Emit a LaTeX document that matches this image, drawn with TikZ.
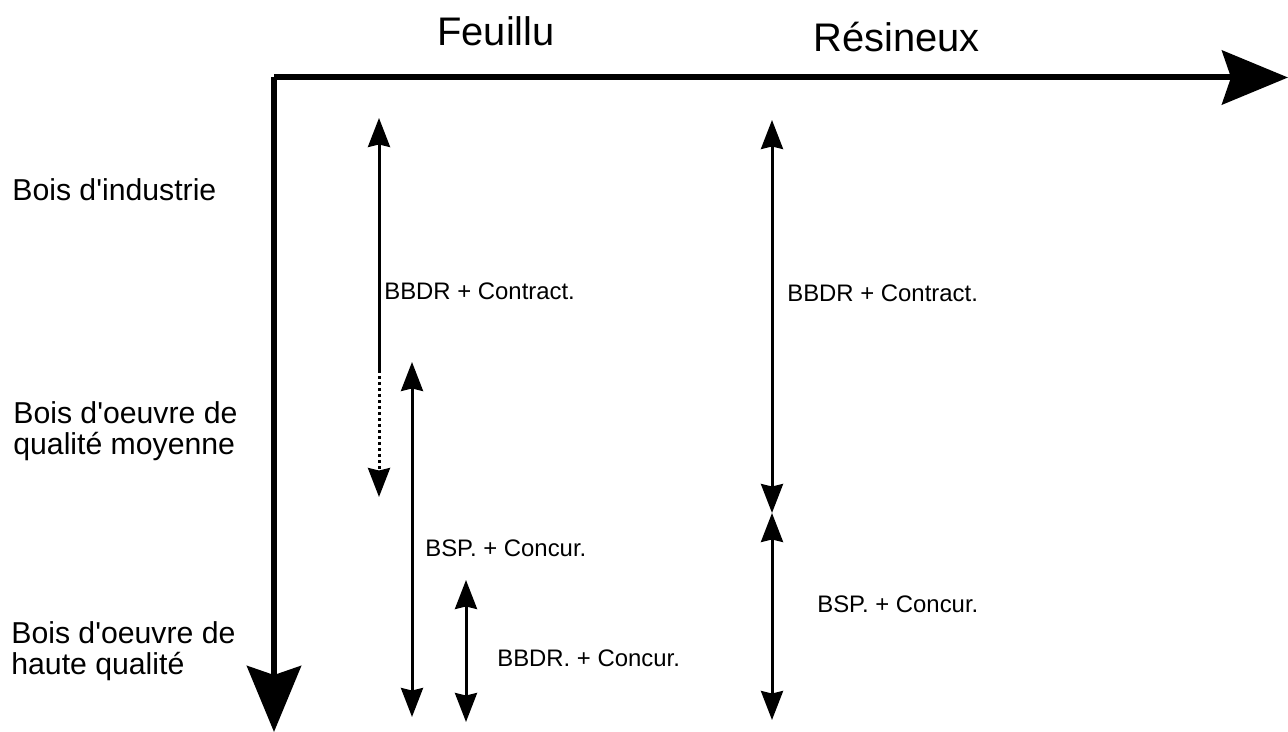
\documentclass[tikz,border=0pt]{standalone}
\usepackage{fontspec}
\setmainfont{Liberation Sans}[Ligatures=TeXOff]
\usetikzlibrary{arrows.meta}

\begin{document}
\begin{tikzpicture}[x=0.02cm, y=-0.02cm,
		axis/.style={line width=0.12cm, -{Stealth[length=1.32cm, width=1.08cm, inset=0.18cm]}},
		span/.style={line width=0.06cm, {Stealth[length=0.58cm, width=0.44cm, inset=0.05cm]}-{Stealth[length=0.58cm, width=0.44cm, inset=0.05cm]}},
		tip/.style={line width=0.06cm, -{Stealth[length=0.58cm, width=0.44cm, inset=0.05cm]}},
		title/.style={anchor=base west, inner sep=0pt, font=\fontsize{22.7}{27}\selectfont},
		cat/.style={anchor=base west, inner sep=0pt, align=left, font=\fontsize{17.2}{17.8}\selectfont},
		letter/.style={anchor=base west, inner sep=0pt, font=\fontsize{13.6}{16}\selectfont}]
	\useasboundingbox (0,0) rectangle (1288,732);

	% axes
	\coordinate (o) at (274,77.5);
	\coordinate (xend) at (1288,77.5);
	\coordinate (yend) at (274,732);
	\draw[axis] (o) -- (xend);
	\draw[axis] (o) -- (yend);

	% column and row labels
	\node[title] (feuillu) at (437,46) {Feuillu};
	\node[title] (resineux) at (813,52) {Résineux};
	\node[cat] (industrie) at (12,201) {Bois d'industrie};
	\node[cat] (moyenne) at (13,455) {Bois d'oeuvre de\\qualité moyenne};
	\node[cat] (haute) at (11,675) {Bois d'oeuvre de\\haute qualité};

	% Feuillu
	\coordinate (f1t) at (379,118);
	\coordinate (f1m) at (379,370);
	\coordinate (f1b) at (379,497);
	\draw[line width=0.06cm, {Stealth[length=0.58cm, width=0.44cm, inset=0.05cm]}-] (f1t) -- (f1m);
	\draw[tip, dash pattern=on 0.07cm off 0.05cm] (f1m) -- (f1b);
	\coordinate (f2t) at (412,362);
	\coordinate (f2b) at (412,717);
	\draw[span] (f2t) -- (f2b);
	\coordinate (f3t) at (466,580);
	\coordinate (f3b) at (466,722);
	\draw[span] (f3t) -- (f3b);

	% Resineux
	\coordinate (r1t) at (772,120);
	\coordinate (r1b) at (772,513);
	\coordinate (r2b) at (772,720);
	\draw[span] (r1t) -- (r1b);
	\draw[span] (r1b) -- (r2b);

	\node[letter] (f1) at (384,300) {BBDR + Contract.};
	\node[letter] (f2) at (425,557) {BSP. + Concur.};
	\node[letter] (f3) at (497,666) {BBDR. + Concur.};
	\node[letter] (r1) at (787,302) {BBDR + Contract.};
	\node[letter] (r2) at (817,613) {BSP. + Concur.};

\end{tikzpicture}
\end{document}
